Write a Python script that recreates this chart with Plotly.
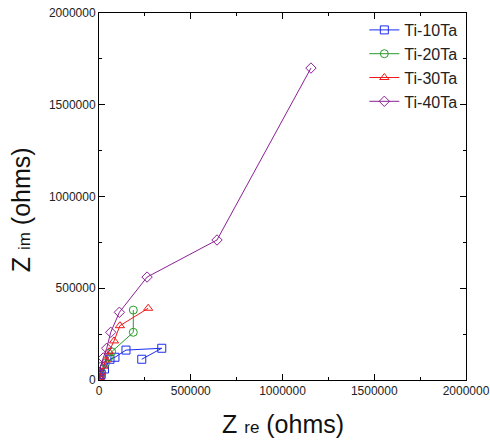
import plotly.graph_objects as go

# Data (ohms)
ti10_x = [1000, 5000, 12000, 30000, 60000, 87000, 147000, 342000, 233000]
ti10_y = [3000, 12000, 30000, 60000, 113000, 124000, 163000, 173000, 113000]

ti20_x = [1000, 5000, 15000, 35000, 55000, 69000, 187000, 187000]
ti20_y = [3000, 15000, 40000, 90000, 127000, 154000, 260000, 381000]

ti30_x = [1000, 4000, 10000, 25000, 38000, 54000, 82000, 114000, 268000]
ti30_y = [4000, 15000, 40000, 75000, 109000, 154000, 213000, 296000, 391000]

ti40_x = [1000, 2000, 4000, 8000, 23000, 42000, 64000, 111000, 262000, 643000, 1155000]
ti40_y = [5000, 20000, 40000, 70000, 120000, 173000, 260000, 369000, 561000, 763000, 1700000]

names = ["Ti-10Ta", "Ti-20Ta", "Ti-30Ta", "Ti-40Ta"]
colors = ["#1a2cf0", "#2a9a2a", "#f01818", "#8c1f96"]
symbols = ["square-open", "circle-open", "triangle-up-open", "diamond-open"]
xs = [ti10_x, ti20_x, ti30_x, ti40_x]
ys = [ti10_y, ti20_y, ti30_y, ti40_y]

fig = go.Figure()
for n, c, s, x, y in zip(names, colors, symbols, xs, ys):
    fig.add_trace(go.Scatter(
        x=x, y=y, name=n, mode="lines+markers",
        line=dict(color=c, width=1),
        marker=dict(symbol=s, size=8, color=c, line=dict(color=c, width=1)),
    ))

axis_common = dict(
    range=[0, 2000000], dtick=500000, tick0=0, automargin=False,
    showgrid=False, zeroline=False,
    showline=True, linecolor="black", linewidth=1, mirror="allticks",
    ticks="inside", ticklen=6, tickcolor="black", tickwidth=1,
    minor=dict(ticks="inside", ticklen=3, dtick=250000, tickcolor="black", showgrid=False),
    tickformat="d", tickfont=dict(family="Liberation Sans, Arial", size=12, color="#222"),
)

fig.update_layout(
    width=490, height=443,
    margin=dict(l=99, r=24, t=13, b=63),
    paper_bgcolor="white", plot_bgcolor="white",
    showlegend=True,
    legend=dict(x=0.99, y=1.0, xanchor="right", yanchor="top",
                font=dict(family="Liberation Sans, Arial", size=16, color="#222"),
                bgcolor="rgba(0,0,0,0)", tracegroupgap=0),
    xaxis=dict(**axis_common),
    yaxis=dict(**axis_common),
    annotations=[
        dict(text='Z <span style="font-size:17px">re</span> (ohms)',
             xref="paper", yref="paper", x=0.5, y=-0.12,
             xanchor="center", yanchor="middle", showarrow=False,
             font=dict(family="Liberation Sans, Arial", size=25, color="#111")),
        dict(text='Z <span style="font-size:17px">im</span> (ohms)',
             xref="paper", yref="paper", x=-0.212, y=0.463,
             xanchor="center", yanchor="middle", showarrow=False, textangle=-90,
             font=dict(family="Liberation Sans, Arial", size=25, color="#111")),
    ],
)

fig.write_html("out.html", config={"displayModeBar": False},
               post_script="document.body.style.margin='0';document.body.style.overflow='hidden';")
